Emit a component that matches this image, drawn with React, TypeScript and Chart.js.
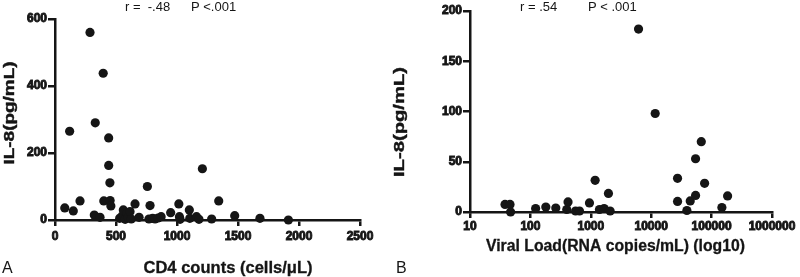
import { useEffect, useRef } from "react";
import { Chart, registerables } from "chart.js";

Chart.register(...registerables);

// Panel A: CD4 counts vs IL-8
const cd4Counts = [80, 150, 120, 205, 287, 330, 322, 369, 395, 400, 440, 440, 450, 452, 458, 530, 550, 560, 575, 590, 600, 615, 625, 656, 689, 757, 770, 779, 800, 820, 845, 870, 948, 1015, 1020, 1025, 1101, 1105, 1160, 1180, 1208, 1284, 1342, 1473, 1680, 1913];
const il8A = [36, 27, 265, 57, 560, 290, 15, 8, 438, 57, 245, 163, 111, 58, 42, 5, 12, 30, 2, 20, 8, 25, 3, 48, 8, 100, 3, 43, 5, 3, 6, 10, 22, 48, 10, 2, 30, 5, 10, 2, 153, 3, 57, 13, 5, 0];
const cd4Ticks = [0, 500, 1000, 1500, 2000, 2500];
const il8ATicks = [0, 200, 400, 600];

// Panel B: viral load vs IL-8
const viralLoad = [38, 46, 47, 122, 180, 263, 420, 400, 560, 650, 950, 1180, 1390, 1660, 1960, 2090, 6170, 11650, 27300, 27300, 39000, 44300, 54300, 54300, 67500, 76600, 148000, 184000];
const il8B = [7.5, 7.5, 0, 3.5, 5, 4, 10, 2.5, 1, 1, 9, 31.5, 2.5, 3.5, 18.5, 1, 182, 98, 33.5, 10.5, 1.5, 11, 53, 16.5, 70, 28.5, 4.5, 16];
const vlTicks = [10, 100, 1000, 10000, 100000, 1000000];
const il8BTicks = [0, 50, 100, 150, 200];

const INK = "#151515";
const FAMILY = "'Liberation Sans', Arial, Helvetica, sans-serif";

const textPlugin = {
  id: "figTexts",
  afterDraw(chart: any, _args: any, opts: any) {
    const ctx = chart.ctx;
    for (const t of opts.items || []) {
      ctx.save();
      ctx.font = t.font;
      ctx.fillStyle = INK;
      ctx.textAlign = t.align || "left";
      ctx.textBaseline = t.baseline || "alphabetic";
      ctx.translate(t.x, t.y);
      if (t.rotate) ctx.rotate(t.rotate);
      if (t.width) {
        const w = ctx.measureText(t.text).width;
        ctx.scale(t.width / w, 1);
      }
      ctx.fillText(t.text, 0, 0);
      if (t.stroke) {
        ctx.strokeStyle = INK;
        ctx.lineWidth = t.stroke;
        ctx.strokeText(t.text, 0, 0);
      }
      ctx.restore();
    }
  },
};

function axis(extra: any, tickLength: number, padding: number, fit: (s: any) => void) {
  return {
    ...extra,
    ticks: {
      callback: (v: any) => String(v),
      ...(extra.ticks || {}),
      color: INK,
      font: { size: 12, weight: "700", family: FAMILY },
      textStrokeColor: INK,
      textStrokeWidth: 0.9,
      padding,
      maxRotation: 0,
      autoSkip: false,
    },
    grid: {
      display: true,
      drawOnChartArea: false,
      drawTicks: true,
      tickLength,
      tickColor: INK,
      tickWidth: 2.5,
      color: INK,
      lineWidth: 2.5,
    },
    border: { display: true, color: INK, width: 2.5 },
    afterFit: fit,
  };
}

function makeChart(canvas: HTMLCanvasElement, cfg: any) {
  return new Chart(canvas, {
    type: "scatter",
    data: {
      datasets: [
        {
          data: cfg.xs.map((x: number, i: number) => ({ x, y: cfg.ys[i] })),
          backgroundColor: INK,
          borderWidth: 0,
          pointRadius: 4.6,
          pointHoverRadius: 4.6,
          clip: false,
        },
      ],
    },
    options: {
      animation: false,
      responsive: false,
      devicePixelRatio: 1,
      layout: { padding: cfg.padding },
      plugins: {
        legend: { display: false },
        tooltip: { enabled: false },
        figTexts: { items: cfg.texts },
      } as any,
      scales: {
        x: axis(cfg.x, 6, cfg.xPad, (s: any) => { s.height = cfg.xHeight; }),
        y: axis(cfg.y, 7, 1, (s: any) => { s.width = cfg.yWidth; }),
      },
    },
    plugins: [textPlugin as any],
  });
}

export default function App() {
  const refA = useRef<HTMLCanvasElement>(null);
  const refB = useRef<HTMLCanvasElement>(null);

  useEffect(() => {
    const reg = `13px ${FAMILY}`;
    const boldTitle = `bold 16px ${FAMILY}`;
    const boldY = `bold 14px ${FAMILY}`;
    const letter = `16px ${FAMILY}`;

    const a = makeChart(refA.current!, {
      xs: cd4Counts,
      ys: il8A,
      padding: { left: 0, right: 40, top: 19, bottom: 0 },
      xHeight: 57,
      yWidth: 55,
      xPad: 3,
      x: {
        type: "linear",
        min: 0,
        max: 2500,
        afterBuildTicks: (s: any) => { s.ticks = cd4Ticks.map((v) => ({ value: v })); },
      },
      y: {
        type: "linear",
        min: 0,
        max: 600,
        afterBuildTicks: (s: any) => { s.ticks = il8ATicks.map((v) => ({ value: v })); },
      },
      texts: [
        { text: "r =  -.48", x: 125, y: 11, font: reg },
        { text: "P <.001", x: 191, y: 11, font: reg },
        { text: "IL-8(pg/mL)", x: 10, y: 113, font: boldY, align: "center", baseline: "middle", rotate: -Math.PI / 2, width: 103, stroke: 0.4 },
        { text: "CD4 counts (cells/μL)", x: 228, y: 273, font: boldTitle, align: "center", width: 169, stroke: 0.3 },
        { text: "A", x: 2, y: 273, font: letter },
      ],
    });

    const b = makeChart(refB.current!, {
      xs: viralLoad,
      ys: il8B,
      padding: { left: 0, right: 28, top: 11, bottom: 0 },
      xHeight: 65,
      yWidth: 85,
      xPad: 1,
      x: {
        type: "logarithmic",
        min: 10,
        max: 1000000,
        afterBuildTicks: (s: any) => { s.ticks = vlTicks.map((v) => ({ value: v })); },
      },
      y: {
        type: "linear",
        min: 0,
        max: 200,
        afterBuildTicks: (s: any) => { s.ticks = il8BTicks.map((v) => ({ value: v })); },
      },
      texts: [
        { text: "r = .54", x: 135, y: 11, font: reg },
        { text: "P < .001", x: 203, y: 11, font: reg },
        { text: "IL-8(pg/mL)", x: 15.5, y: 122, font: boldY, align: "center", baseline: "middle", rotate: -Math.PI / 2, width: 110, stroke: 0.4 },
        { text: "Viral Load(RNA copies/mL) (log10)", x: 230.5, y: 251, font: boldTitle, align: "center", width: 259, stroke: 0.3 },
        { text: "B", x: 11, y: 273, font: letter },
      ],
    });

    return () => {
      a.destroy();
      b.destroy();
    };
  }, []);

  return (
    <div style={{ position: "fixed", left: 0, top: 0, width: 800, height: 277, background: "#fff", overflow: "hidden" }}>
      <div style={{ position: "absolute", left: 0, top: 0, width: 400, height: 277 }}>
        <canvas ref={refA} width={400} height={277} style={{ display: "block" }} />
      </div>
      <div style={{ position: "absolute", left: 385, top: 0, width: 415, height: 277 }}>
        <canvas ref={refB} width={415} height={277} style={{ display: "block" }} />
      </div>
    </div>
  );
}
